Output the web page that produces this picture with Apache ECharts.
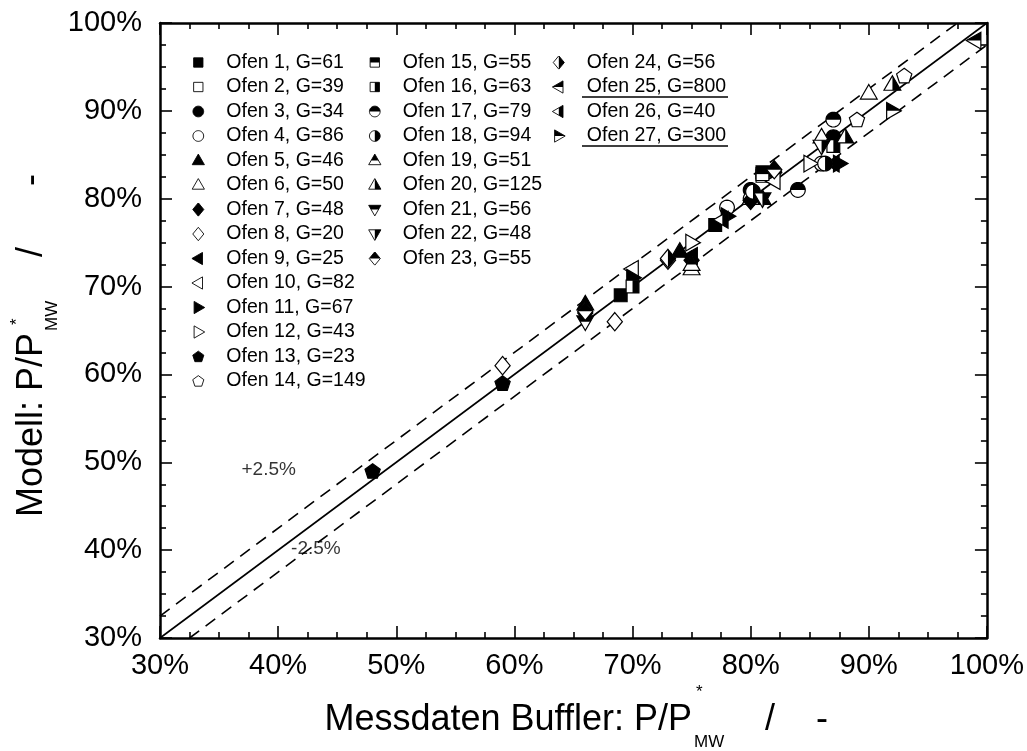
<!DOCTYPE html>
<html><head><meta charset="utf-8">
<script src="https://cdn.jsdelivr.net/npm/echarts@6/dist/echarts.min.js"></script>
<style>html,body{margin:0;padding:0;background:#fff}#c{width:1027px;height:751px}</style>
</head><body><div id="c"></div>
<script>
// ---------------- DATA ----------------
const ofenNames = ['Ofen 1, G=61','Ofen 2, G=39','Ofen 3, G=34','Ofen 4, G=86','Ofen 5, G=46','Ofen 6, G=50','Ofen 7, G=48','Ofen 8, G=20','Ofen 9, G=25','Ofen 10, G=82','Ofen 11, G=67','Ofen 12, G=43','Ofen 13, G=23','Ofen 14, G=149','Ofen 15, G=55','Ofen 16, G=63','Ofen 17, G=79','Ofen 18, G=94','Ofen 19, G=51','Ofen 20, G=125','Ofen 21, G=56','Ofen 22, G=48','Ofen 23, G=55','Ofen 24, G=56','Ofen 25, G=800','Ofen 26, G=40','Ofen 27, G=300'];
// [Messdaten, Modell] in %
const ofen01 = [[69,69],[77,77],[81,83]];
const ofen02 = [[81,82.6]];
const ofen03 = [[80,81],[87,87]];
const ofen04 = [[78,79],[80,80],[86,84]];
const ofen05 = [[66,68],[74,74],[81,80]];
const ofen06 = [[75,72],[86,87],[90,92],[80,80]];
const ofen07 = [[66,67],[75,73],[80,79.8],[82,83]];
const ofen08 = [[59,61],[68.5,66],[73,73]];
const ofen09 = [[75,73.5],[87,84]];
const ofen10 = [[70,72],[82,82]];
const ofen11 = [[70,71],[78,78],[87.5,84]];
const ofen12 = [[75,75],[85,84]];
const ofen13 = [[48,49],[59,59]];
const ofen14 = [[89,89],[93,94]];
const ofen15 = [[81,82.8]];
const ofen16 = [[70,70],[87,86]];
const ofen17 = [[84,81],[87,89]];
const ofen18 = [[80.2,80.8],[86.3,84]];
const ofen19 = [[75,72.5]];
const ofen20 = [[88,87],[92,93]];
const ofen21 = [[66,66]];
const ofen22 = [[86,86],[81,80]];
const ofen23 = [[66,67.2],[82,83.3]];
const ofen24 = [[73,73.2]];
const ofen25 = [[99,98]];
const ofen26 = [[77.6,77.6]];
const ofen27 = [[92,90]];
const ofenData = [ofen01,ofen02,ofen03,ofen04,ofen05,ofen06,ofen07,ofen08,ofen09,ofen10,ofen11,ofen12,ofen13,ofen14,ofen15,ofen16,ofen17,ofen18,ofen19,ofen20,ofen21,ofen22,ofen23,ofen24,ofen25,ofen26,ofen27];

const idealLine = [[30,30],[100,100]];
const upperLine = [[30,32.5],[97.5,100]];
const lowerLine = [[32.5,30],[100,97.5]];
const bandLabels = [{name:'+2.5%', value:[39.2,49.2]},{name:'-2.5%', value:[43.2,40.1]}];
const tickValues = [30,40,50,60,70,80,90,100];
const tickLabels = ['30%','40%','50%','60%','70%','80%','90%','100%'];

// ---------------- STYLE ----------------
const ofenShape = ['square','square','circle','circle','triUp','triUp','diamond','diamond','triLeft','triLeft','triRight','triRight','pentagon','pentagon',
  'square','square','circle','circle','triUp','triUp','triDown','triDown','diamond','diamond','triLeft','triLeft','triRight'];
const ofenFill = ['full','none','full','none','full','none','full','none','full','none','full','none','full','none',
  'top','right','top','right','top','right','top','right','top','right','top','right','top'];
const FONT = 'Liberation Sans, Arial, sans-serif';

function unitPoly(shape){
  switch(shape){
    case 'square': return [[-0.8,-0.8],[0.8,-0.8],[0.8,0.8],[-0.8,0.8]];
    case 'circle': { const p=[]; for(let i=0;i<32;i++){const a=i/32*Math.PI*2; p.push([0.92*Math.cos(a),0.92*Math.sin(a)]);} return p; }
    case 'triUp': return [[0,-1.1],[1.05,0.72],[-1.05,0.72]];
    case 'triDown': return [[0,1.1],[-1.05,-0.72],[1.05,-0.72]];
    case 'triLeft': return [[-1.1,0],[0.72,-1.05],[0.72,1.05]];
    case 'triRight': return [[1.1,0],[-0.72,1.05],[-0.72,-1.05]];
    case 'diamond': return [[0,-1.15],[0.95,0],[0,1.15],[-0.95,0]];
    case 'pentagon': { const p=[]; for(let i=0;i<5;i++){const a=-Math.PI/2+i*2*Math.PI/5; p.push([1.0*Math.cos(a),1.0*Math.sin(a)+0.08]);} return p; }
  }
}
function clipHalf(poly, fill){
  const f = fill==='top' ? p=>-p[1] : fill==='bottom' ? p=>p[1] : fill==='right' ? p=>p[0] : p=>-p[0];
  const out=[]; const n=poly.length;
  for(let i=0;i<n;i++){
    const cur=poly[i], prev=poly[(i-1+n)%n];
    const fc=f(cur), fp=f(prev);
    const inter=()=>{const t=fp/(fp-fc); return [prev[0]+t*(cur[0]-prev[0]), prev[1]+t*(cur[1]-prev[1])];};
    if(fc>=0){ if(fp<0) out.push(inter()); out.push(cur); }
    else if(fp>=0) out.push(inter());
  }
  return out;
}
function markerParts(k){
  const full = unitPoly(ofenShape[k]);
  const fill = ofenFill[k];
  const parts = [];
  if(fill==='full') parts.push({pts:full, fill:'#000', stroke:'#000'});
  else if(fill==='none') parts.push({pts:full, fill:'#fff', stroke:'#000'});
  else {
    parts.push({pts:full, fill:'#fff', stroke:null});
    parts.push({pts:clipHalf(full,fill), fill:'#000', stroke:null});
    parts.push({pts:full, fill:'none', stroke:'#000'});
  }
  return parts;
}
function svgIcon(k){
  const parts = markerParts(k);
  let s = '<svg xmlns="http://www.w3.org/2000/svg" width="28" height="28" viewBox="-1.2 -1.2 2.4 2.4">';
  parts.forEach(p=>{
    s += '<polygon points="'+p.pts.map(q=>q[0].toFixed(3)+','+q[1].toFixed(3)).join(' ')+'" fill="'+p.fill+'" stroke="'+(p.stroke||'none')+'" stroke-width="0.15"/>';
  });
  s += '</svg>';
  return 'image://data:image/svg+xml;charset=utf-8,' + encodeURIComponent(s);
}
const R = 8;
function makeRender(k){
  const parts = markerParts(k);
  return function(params, api){
    const c = api.coord([api.value(0), api.value(1)]);
    return {type:'group', children: parts.map(p=>({
      type:'polygon',
      shape:{points: p.pts.map(q=>[c[0]+q[0]*R, c[1]+q[1]*R])},
      style:{fill:p.fill, stroke:p.stroke||null, lineWidth:1.2}
    }))};
  };
}

const series = [
  {type:'line', data:idealLine, symbol:'none', silent:true, lineStyle:{color:'#000', width:1.6}, z:1},
  {type:'line', data:upperLine, symbol:'none', silent:true, lineStyle:{color:'#000', width:1.6, type:[12,8]}, z:1},
  {type:'line', data:lowerLine, symbol:'none', silent:true, lineStyle:{color:'#000', width:1.6, type:[12,8]}, z:1},
  {type:'scatter', data:bandLabels, symbolSize:0, silent:true, z:1,
   label:{show:true, position:'inside', formatter:p=>p.name, fontSize:19, fontFamily:FONT, color:'#000'}}
];
ofenData.forEach((d,k)=>{
  series.push({type:'custom', name:ofenNames[k], data:d, renderItem:makeRender(k), z:3,
    encode:{x:0,y:1}, silent:true});
});

function legendCol(from,to,left){
  return {orient:'vertical', left:left, top:52.5, padding:0, itemWidth:46, itemHeight:14, itemGap:4.5,
    selectedMode:false, symbolKeepAspect:true,
    textStyle:{fontSize:19.5, lineHeight:20, fontFamily:FONT, color:'#000'},
    data: ofenNames.slice(from,to).map((n,i)=>({name:n, icon:svgIcon(from+i)}))};
}

const axisCommon = {
  type:'value', min:30, max:100, interval:10,
  axisLine:{show:true, lineStyle:{color:'#000', width:2.5}},
  axisTick:{show:true, inside:true, length:12, lineStyle:{color:'#000', width:1.6}},
  minorTick:{show:true, splitNumber:4, length:6, lineStyle:{color:'#000', width:1.6}},
  splitLine:{show:false}
};
const labelFmt = v => tickLabels[tickValues.indexOf(v)] || '';

const chart = echarts.init(document.getElementById('c'), null, {renderer:'canvas'});
chart.setOption({
  backgroundColor:'#fff',
  animation:false,
  grid:{left:160, right:40, top:23, bottom:113},
  xAxis:[
    Object.assign({}, axisCommon, {position:'bottom', axisLabel:{formatter:labelFmt, fontSize:29, fontFamily:FONT, color:'#000', margin:13}}),
    Object.assign({}, axisCommon, {position:'top', axisLabel:{show:false}})
  ],
  yAxis:[
    Object.assign({}, axisCommon, {position:'left', axisLabel:{formatter:labelFmt, fontSize:29, fontFamily:FONT, color:'#000', margin:18}}),
    Object.assign({}, axisCommon, {position:'right', axisLabel:{show:false}})
  ],
  legend:[legendCol(0,14,175.3), legendCol(14,23,351.8), legendCol(23,27,535.8)],
  series: series,
  graphic:[
    {type:'line', shape:{x1:582, y1:97, x2:728, y2:97}, style:{stroke:'#000', lineWidth:1.6}},
    {type:'line', shape:{x1:582, y1:146, x2:728, y2:146}, style:{stroke:'#000', lineWidth:1.6}},
    {type:'group', children:[
      {type:'text', x:692, y:720, style:{text:'Messdaten Buffler: P/P', font:'36px '+FONT, fill:'#000', textAlign:'right', textVerticalAlign:'middle'}},
      {type:'text', x:696, y:692, style:{text:'*', font:'17px '+FONT, fill:'#000', textAlign:'left', textVerticalAlign:'middle'}},
      {type:'text', x:694, y:742, style:{text:'MW', font:'17px '+FONT, fill:'#000', textAlign:'left', textVerticalAlign:'middle'}},
      {type:'text', x:770, y:720, style:{text:'/', font:'36px '+FONT, fill:'#000', textAlign:'center', textVerticalAlign:'middle'}},
      {type:'text', x:822, y:720, style:{text:'-', font:'36px '+FONT, fill:'#000', textAlign:'center', textVerticalAlign:'middle'}}
    ]},
    {type:'group', x:32, y:333, rotation:Math.PI/2, children:[
      {type:'text', x:0, y:0, style:{text:'Modell: P/P', font:'36px '+FONT, fill:'#000', textAlign:'right', textVerticalAlign:'middle'}},
      {type:'text', x:8, y:-15, style:{text:'*', font:'17px '+FONT, fill:'#000', textAlign:'left', textVerticalAlign:'middle'}},
      {type:'text', x:2, y:20, style:{text:'MW', font:'17px '+FONT, fill:'#000', textAlign:'left', textVerticalAlign:'middle'}},
      {type:'text', x:81, y:0, style:{text:'/', font:'36px '+FONT, fill:'#000', textAlign:'center', textVerticalAlign:'middle'}},
      {type:'text', x:153, y:0, style:{text:'-', font:'36px '+FONT, fill:'#000', textAlign:'center', textVerticalAlign:'middle'}}
    ]}
  ]
});
</script></body></html>
